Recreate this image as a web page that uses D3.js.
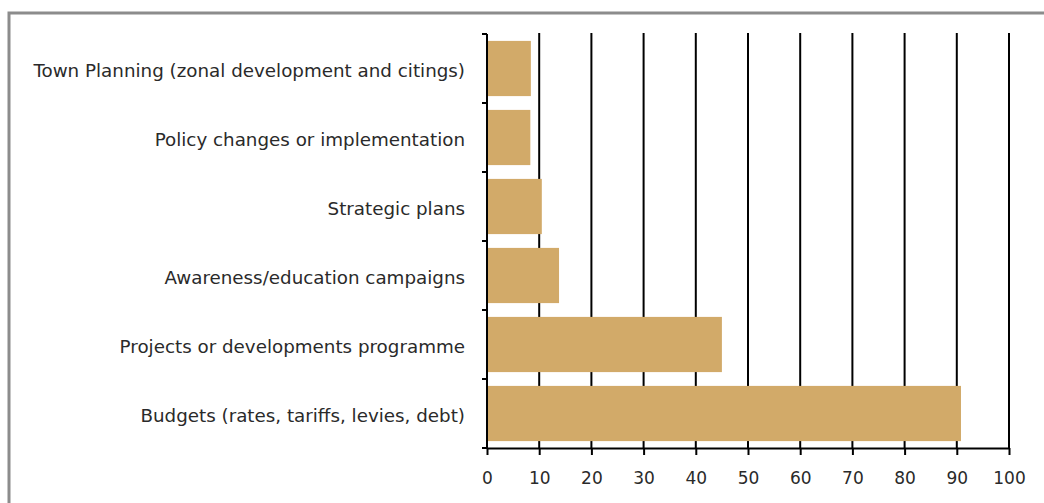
<!DOCTYPE html>
<html lang="en">
<head>
<meta charset="UTF-8">
<title>Bar chart</title>
<script src="https://d3js.org/d3.v7.min.js"></script>
<style>
    body { margin: 0; background: #ffffff; }
    #canvas { display: block; }
    .label { font-family: "DejaVu Sans", sans-serif; font-size: 18.3px; fill: #2a2a2a; }
    .tick-label { font-family: "DejaVu Sans", sans-serif; font-size: 17px; fill: #2a2a2a; }
</style>
</head>
<body>
<svg id="canvas" width="1044" height="503"></svg>
<script>
    // data
    let categories = [
        "Town Planning (zonal development and citings)",
        "Policy changes or implementation",
        "Strategic plans",
        "Awareness/education campaigns",
        "Projects or developments programme",
        "Budgets (rates, tariffs, levies, debt)"
    ]
    let values = [8.4, 8.3, 10.5, 13.8, 45, 90.8]
    let xTicks = [0, 10, 20, 30, 40, 50, 60, 70, 80, 90, 100]

    let svg = d3.select('#canvas')
    let barColor = "#d2aa69"

    // outer frame
    svg.append("rect")
        .attr("x", 9).attr("y", 13)
        .attr("width", 1100).attr("height", 600)
        .attr("fill", "none")
        .attr("stroke", "#8c8c8c")
        .attr("stroke-width", 3)

    let plotLeft = 487, plotRight = 1009, plotTop = 34, plotBottom = 448

    let x = d3.scaleLinear().domain([0, 100]).range([plotLeft, plotRight])
    let y = d3.scaleBand().domain(categories).range([plotTop, plotBottom])
        .paddingInner(0.2).paddingOuter(0.1)

    // vertical grid lines
    svg.append("g").selectAll("line")
        .data(xTicks.filter(d => d > 0))
        .enter().append("line")
        .attr("x1", d => x(d)).attr("x2", d => x(d))
        .attr("y1", plotTop - 1).attr("y2", plotBottom)
        .attr("stroke", "#000").attr("stroke-width", 2)

    // bars
    svg.append("g").selectAll("rect")
        .data(values)
        .enter().append("rect")
        .attr("x", x(0))
        .attr("y", (d, i) => y(categories[i]))
        .attr("width", d => x(d) - x(0))
        .attr("height", y.bandwidth())
        .attr("fill", barColor)

    // x axis
    let xAxis = d3.axisBottom(x).tickValues(xTicks).tickSize(7).tickSizeOuter(0).tickPadding(17)
    let gx = svg.append("g").attr("transform", `translate(0,${plotBottom})`).call(xAxis)
    gx.select(".domain").attr("stroke", "#000").attr("stroke-width", 2)
    gx.selectAll(".tick line").attr("stroke", "#000").attr("stroke-width", 2)
    gx.selectAll(".tick text").attr("class", "tick-label").attr("fill", "#2a2a2a")

    // y axis: ticks at category boundaries
    let boundaries = categories.map(c => y(c) - y.step() * y.paddingInner() / 2)
    boundaries.push(plotBottom)
    let gy = svg.append("g")
    gy.append("line")
        .attr("x1", plotLeft).attr("x2", plotLeft)
        .attr("y1", plotTop).attr("y2", plotBottom)
        .attr("stroke", "#000").attr("stroke-width", 2)
    gy.selectAll(".ytick")
        .data(boundaries)
        .enter().append("line")
        .attr("class", "ytick")
        .attr("x1", plotLeft - 5).attr("x2", plotLeft)
        .attr("y1", d => d).attr("y2", d => d)
        .attr("stroke", "#000").attr("stroke-width", 2)

    // category labels
    svg.append("g").selectAll("text")
        .data(categories)
        .enter().append("text")
        .attr("class", "label")
        .attr("x", plotLeft - 22)
        .attr("y", d => y(d) + y.bandwidth() / 2)
        .attr("dy", "0.45em")
        .attr("text-anchor", "end")
        .text(d => d)
</script>
</body>
</html>
